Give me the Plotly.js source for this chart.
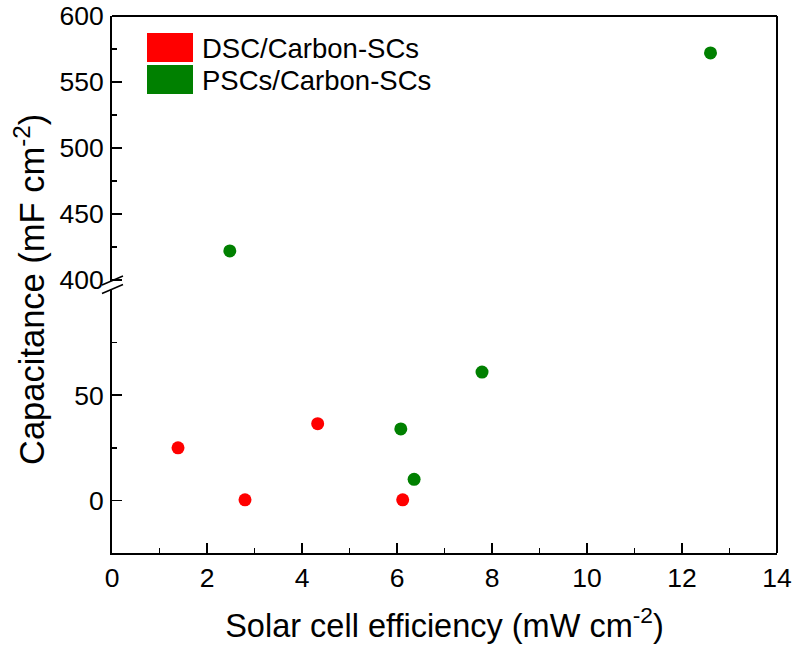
<!DOCTYPE html>
<html>
<head>
<meta charset="utf-8">
<script src="https://cdn.plot.ly/plotly-3.0.1.min.js"></script>
<style>html,body{margin:0;padding:0;background:#fff;}</style>
</head>
<body>
<div id="chart" style="width:796px;height:650px;"></div>
<script>
// ---- data ----
const seriesNames = ['DSC/Carbon-SCs', 'PSCs/Carbon-SCs'];
const seriesColors = ['#FF0000', '#008000'];
const dscX = [1.39, 2.80, 4.33, 6.12];
const dscY = [25, 0.3, 36.5, 0.3];
const pscX = [2.48, 6.08, 6.36, 7.79, 12.6];
const pscY = [422, 34, 10, 61, 572];
const xTickVals = [0, 2, 4, 6, 8, 10, 12, 14];
const yLowTickVals = [0, 50];
const yLowMinorVals = [25, 75];
const yHighTickVals = [400, 450, 500, 550, 600];
const yHighMinorVals = [425, 475, 525, 575];
const breakValue = 100.5;

const FONT = 'Arial, "Liberation Sans", sans-serif';

function split(xs, ys, upper) {
  const ox = [], oy = [];
  xs.forEach((x, i) => {
    if ((ys[i] > breakValue) === upper) { ox.push(x); oy.push(ys[i]); }
  });
  return {x: ox, y: oy};
}

const allSeries = [[dscX, dscY], [pscX, pscY]];
const traces = [];
allSeries.forEach((s, k) => {
  [false, true].forEach(up => {
    const p = split(s[0], s[1], up);
    if (!p.x.length) return;
    traces.push({
      type: 'scatter', mode: 'markers', x: p.x, y: p.y,
      yaxis: up ? 'y2' : 'y', name: seriesNames[k], showlegend: false,
      marker: {color: seriesColors[k], size: 13, line: {width: 0}},
      cliponaxis: false
    });
  });
});

// geometry helpers (paper coords)
const L = 112, R = 777, T = 16, B = 553;
const px = v => (v - L) / (R - L);
const py = v => (B - v) / (B - T);

const shapes = [
  {type: 'line', xref: 'paper', yref: 'paper', x0: 0, x1: 1, y0: 1, y1: 1, line: {color: '#000', width: 2}},
  {type: 'line', xref: 'paper', yref: 'paper', x0: 1, x1: 1, y0: 0, y1: 1, line: {color: '#000', width: 2}},
  {type: 'line', xref: 'paper', yref: 'paper', x0: px(102), x1: px(123), y0: py(285), y1: py(276), line: {color: '#000', width: 1.5}},
  {type: 'line', xref: 'paper', yref: 'paper', x0: px(102), x1: px(123), y0: py(293.5), y1: py(284.5), line: {color: '#000', width: 1.5}}
];
const annotations = [];
seriesNames.forEach((n, k) => {
  const top = 33 + k * 32;
  shapes.push({type: 'rect', xref: 'paper', yref: 'paper', x0: px(147), x1: px(193),
    y0: py(top + 29), y1: py(top), fillcolor: seriesColors[k], line: {width: 0}});
  annotations.push({xref: 'paper', yref: 'paper', x: px(200), y: py(top + 15),
    xanchor: 'left', yanchor: 'middle', showarrow: false, text: n,
    font: {family: FONT, size: 27.5, color: '#000'}});
});
annotations.push({xref: 'paper', yref: 'paper', x: px(29), y: py(290), textangle: -90,
  xanchor: 'center', yanchor: 'middle', showarrow: false,
  text: 'Capacitance (mF cm<sup>-2</sup>)', font: {family: FONT, size: 34.5, color: '#000'}});

const axBase = {
  showgrid: false, zeroline: false, showline: true, linecolor: '#000', linewidth: 2,
  ticks: 'inside', ticklen: 10, tickwidth: 1.5, tickcolor: '#000',
  tickfont: {family: FONT, size: 26.5, color: '#000'}, fixedrange: true
};

const layout = {
  width: 796, height: 650,
  margin: {l: L, r: 796 - R, t: T, b: 650 - B},
  paper_bgcolor: '#fff', plot_bgcolor: '#fff',
  showlegend: false,
  font: {family: FONT, color: '#000'},
  xaxis: Object.assign({}, axBase, {
    range: [0, 14], tickmode: 'array', tickvals: xTickVals, anchor: 'y',
    minor: {dtick: 1, tick0: 0, ticks: 'inside', ticklen: 5, tickwidth: 1.5, tickcolor: '#000'},
    title: {text: 'Solar cell efficiency (mW cm<sup>-2</sup>)', font: {family: FONT, size: 32.5, color: '#000'}, standoff: 22}
  }),
  yaxis: Object.assign({}, axBase, {
    range: [-25, breakValue], domain: [0, py(289)], anchor: 'x',
    tickmode: 'array', tickvals: yLowTickVals, ticklabelstandoff: 1,
    minor: {tickmode: 'array', tickvals: yLowMinorVals, ticks: 'inside', ticklen: 5, tickwidth: 1.5, tickcolor: '#000'}
  }),
  yaxis2: Object.assign({}, axBase, {
    range: [399.2, 600], domain: [py(281), 1], anchor: 'x',
    tickmode: 'array', tickvals: yHighTickVals, ticklabelstandoff: 1,
    minor: {tickmode: 'array', tickvals: yHighMinorVals, ticks: 'inside', ticklen: 5, tickwidth: 1.5, tickcolor: '#000'}
  }),
  shapes: shapes,
  annotations: annotations
};

Plotly.newPlot('chart', traces, layout, {staticPlot: true, displayModeBar: false});
</script>
</body>
</html>
